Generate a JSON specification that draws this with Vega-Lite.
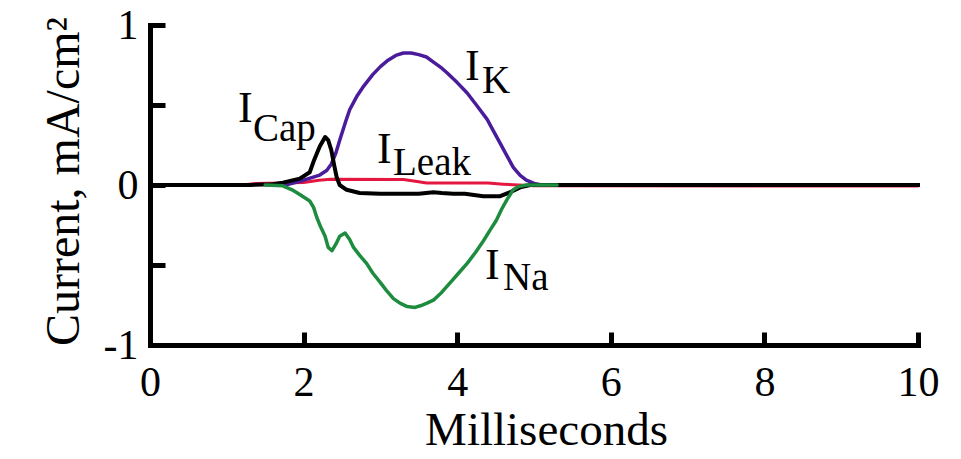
{
  "$schema": "https://vega.github.io/schema/vega-lite/v6.json",
  "width": 768,
  "height": 320,
  "autosize": "none",
  "padding": {"left": 150, "top": 25, "right": 43, "bottom": 114},
  "background": "white",
  "config": {
    "view": {"stroke": null},
    "font": "Liberation Serif",
    "axis": {
      "grid": false,
      "domainColor": "#000000",
      "domainWidth": 5,
      "domainCap": "square",
      "tickColor": "#000000",
      "tickWidth": 5,
      "tickCap": "butt",
      "labelFont": "Liberation Serif",
      "labelFontSize": 42,
      "labelColor": "#000000",
      "labelOverlap": false,
      "labelFlush": false,
      "titleFont": "Liberation Serif",
      "titleFontWeight": "normal",
      "titleColor": "#000000"
    }
  },
  "datasets": {
    "currents": [
      {"series": "Leak", "t": 0, "v": 0},
      {"series": "Leak", "t": 1.2, "v": 0},
      {"series": "Leak", "t": 1.4, "v": 0.01},
      {"series": "Leak", "t": 1.7, "v": 0.012},
      {"series": "Leak", "t": 2.0, "v": 0.015},
      {"series": "Leak", "t": 2.2, "v": 0.03},
      {"series": "Leak", "t": 2.35, "v": 0.036},
      {"series": "Leak", "t": 3.3, "v": 0.035},
      {"series": "Leak", "t": 3.5, "v": 0.02},
      {"series": "Leak", "t": 3.6, "v": 0.012},
      {"series": "Leak", "t": 4.4, "v": 0.012},
      {"series": "Leak", "t": 4.6, "v": 0.005},
      {"series": "Leak", "t": 4.8, "v": 0},
      {"series": "Leak", "t": 5.0, "v": -0.005},
      {"series": "Leak", "t": 10, "v": -0.006},

      {"series": "K", "t": 1.6, "v": 0},
      {"series": "K", "t": 1.8, "v": 0.005},
      {"series": "K", "t": 2.0, "v": 0.03},
      {"series": "K", "t": 2.2, "v": 0.06},
      {"series": "K", "t": 2.3, "v": 0.09},
      {"series": "K", "t": 2.36, "v": 0.13},
      {"series": "K", "t": 2.42, "v": 0.2},
      {"series": "K", "t": 2.47, "v": 0.28},
      {"series": "K", "t": 2.55, "v": 0.4},
      {"series": "K", "t": 2.6, "v": 0.47},
      {"series": "K", "t": 2.7, "v": 0.56},
      {"series": "K", "t": 2.77, "v": 0.61},
      {"series": "K", "t": 2.9, "v": 0.69},
      {"series": "K", "t": 3.0, "v": 0.74},
      {"series": "K", "t": 3.1, "v": 0.78},
      {"series": "K", "t": 3.2, "v": 0.81},
      {"series": "K", "t": 3.3, "v": 0.825},
      {"series": "K", "t": 3.4, "v": 0.825},
      {"series": "K", "t": 3.5, "v": 0.815},
      {"series": "K", "t": 3.6, "v": 0.8},
      {"series": "K", "t": 3.7, "v": 0.765},
      {"series": "K", "t": 3.8, "v": 0.73},
      {"series": "K", "t": 3.87, "v": 0.7},
      {"series": "K", "t": 4.0, "v": 0.64},
      {"series": "K", "t": 4.13, "v": 0.575},
      {"series": "K", "t": 4.25, "v": 0.5},
      {"series": "K", "t": 4.39, "v": 0.41},
      {"series": "K", "t": 4.48, "v": 0.33},
      {"series": "K", "t": 4.56, "v": 0.26},
      {"series": "K", "t": 4.65, "v": 0.18},
      {"series": "K", "t": 4.73, "v": 0.11},
      {"series": "K", "t": 4.82, "v": 0.06},
      {"series": "K", "t": 4.9, "v": 0.03},
      {"series": "K", "t": 5.0, "v": 0.01},
      {"series": "K", "t": 5.1, "v": 0},

      {"series": "Cap", "t": 0, "v": 0},
      {"series": "Cap", "t": 1.3, "v": 0},
      {"series": "Cap", "t": 1.6, "v": 0.005},
      {"series": "Cap", "t": 1.73, "v": 0.015},
      {"series": "Cap", "t": 1.95, "v": 0.04},
      {"series": "Cap", "t": 2.08, "v": 0.08},
      {"series": "Cap", "t": 2.14, "v": 0.16},
      {"series": "Cap", "t": 2.21, "v": 0.24},
      {"series": "Cap", "t": 2.28, "v": 0.3},
      {"series": "Cap", "t": 2.32, "v": 0.28},
      {"series": "Cap", "t": 2.36, "v": 0.22},
      {"series": "Cap", "t": 2.4, "v": 0.12},
      {"series": "Cap", "t": 2.43, "v": 0.05},
      {"series": "Cap", "t": 2.47, "v": 0.0},
      {"series": "Cap", "t": 2.56, "v": -0.03},
      {"series": "Cap", "t": 2.73, "v": -0.05},
      {"series": "Cap", "t": 3.0, "v": -0.055},
      {"series": "Cap", "t": 3.26, "v": -0.055},
      {"series": "Cap", "t": 3.5, "v": -0.055},
      {"series": "Cap", "t": 3.69, "v": -0.045},
      {"series": "Cap", "t": 3.8, "v": -0.05},
      {"series": "Cap", "t": 3.95, "v": -0.055},
      {"series": "Cap", "t": 4.1, "v": -0.055},
      {"series": "Cap", "t": 4.34, "v": -0.07},
      {"series": "Cap", "t": 4.56, "v": -0.07},
      {"series": "Cap", "t": 4.69, "v": -0.045},
      {"series": "Cap", "t": 4.82, "v": -0.015},
      {"series": "Cap", "t": 4.95, "v": 0},
      {"series": "Cap", "t": 10, "v": 0},

      {"series": "Na", "t": 1.5, "v": 0},
      {"series": "Na", "t": 1.73, "v": -0.005},
      {"series": "Na", "t": 1.85, "v": -0.03},
      {"series": "Na", "t": 1.95, "v": -0.06},
      {"series": "Na", "t": 2.08, "v": -0.1},
      {"series": "Na", "t": 2.13, "v": -0.14},
      {"series": "Na", "t": 2.17, "v": -0.2},
      {"series": "Na", "t": 2.22, "v": -0.26},
      {"series": "Na", "t": 2.28, "v": -0.32},
      {"series": "Na", "t": 2.32, "v": -0.39},
      {"series": "Na", "t": 2.37, "v": -0.41},
      {"series": "Na", "t": 2.42, "v": -0.37},
      {"series": "Na", "t": 2.47, "v": -0.32},
      {"series": "Na", "t": 2.54, "v": -0.3},
      {"series": "Na", "t": 2.6, "v": -0.34},
      {"series": "Na", "t": 2.65, "v": -0.39},
      {"series": "Na", "t": 2.73, "v": -0.44},
      {"series": "Na", "t": 2.82, "v": -0.49},
      {"series": "Na", "t": 2.9, "v": -0.55},
      {"series": "Na", "t": 3.0, "v": -0.61},
      {"series": "Na", "t": 3.08, "v": -0.66},
      {"series": "Na", "t": 3.17, "v": -0.71},
      {"series": "Na", "t": 3.26, "v": -0.74},
      {"series": "Na", "t": 3.35, "v": -0.76},
      {"series": "Na", "t": 3.45, "v": -0.765},
      {"series": "Na", "t": 3.52, "v": -0.755},
      {"series": "Na", "t": 3.6, "v": -0.74},
      {"series": "Na", "t": 3.69, "v": -0.72},
      {"series": "Na", "t": 3.8, "v": -0.67},
      {"series": "Na", "t": 3.91, "v": -0.61},
      {"series": "Na", "t": 4.02, "v": -0.55},
      {"series": "Na", "t": 4.13, "v": -0.49},
      {"series": "Na", "t": 4.24, "v": -0.42},
      {"series": "Na", "t": 4.34, "v": -0.35},
      {"series": "Na", "t": 4.43, "v": -0.28},
      {"series": "Na", "t": 4.51, "v": -0.22},
      {"series": "Na", "t": 4.58, "v": -0.15},
      {"series": "Na", "t": 4.65, "v": -0.09},
      {"series": "Na", "t": 4.73, "v": -0.03},
      {"series": "Na", "t": 4.8, "v": -0.01},
      {"series": "Na", "t": 4.9, "v": 0},
      {"series": "Na", "t": 5.3, "v": 0}
    ],
    "labels": [
      {"txt": "I", "part": "main", "t": 1.146, "v": 0.394},
      {"txt": "Cap", "part": "sub", "t": 1.341, "v": 0.275},
      {"txt": "I", "part": "main", "t": 2.956, "v": 0.1375},
      {"txt": "Leak", "part": "sub", "t": 3.164, "v": 0.0625},
      {"txt": "I", "part": "main", "t": 4.362, "v": -0.5875},
      {"txt": "Na", "part": "sub", "t": 4.596, "v": -0.656},
      {"txt": "I", "part": "main", "t": 4.102, "v": 0.656},
      {"txt": "K", "part": "sub", "t": 4.323, "v": 0.575}
    ]
  },
  "encoding": {
    "x": {
      "field": "t",
      "type": "quantitative",
      "scale": {"domain": [0, 10], "nice": false, "zero": false},
      "axis": {
        "title": "Milliseconds",
        "titleFont": "Liberation Serif",
        "titleFontSize": 47,
        "titleX": 396,
        "titleY": 99,
        "titleBaseline": "alphabetic",
        "values": [0, 2, 4, 6, 8, 10],
        "tickSize": -13,
        "labelFont": "Liberation Serif",
        "labelFontSize": 42,
        "labelPadding": 30,
        "labelBaseline": "top"
      }
    },
    "y": {
      "field": "v",
      "type": "quantitative",
      "scale": {"domain": [-1, 1], "nice": false, "zero": false},
      "axis": {
        "title": "Current, mA/cm²",
        "titleFont": "Liberation Serif",
        "titleFontSize": 48,
        "titleX": -72,
        "titleY": 156,
        "titleAngle": -90,
        "titleAlign": "center",
        "titleBaseline": "alphabetic",
        "values": [-1, -0.5, 0, 0.5, 1],
        "labelExpr": "datum.value == -1 ? '-1' : datum.value == 0 ? '0' : datum.value == 1 ? '1' : ''",
        "labelFont": "Liberation Serif",
        "labelFontSize": 42,
        "tickSize": -15,
        "labelPadding": 27
      }
    }
  },
  "layer": [
    {
      "data": {"name": "currents"},
      "transform": [{"filter": "datum.series == 'Leak'"}],
      "mark": {"type": "line", "color": "#e3173f", "strokeWidth": 3, "strokeJoin": "round", "strokeCap": "round"}
    },
    {
      "data": {"name": "currents"},
      "transform": [{"filter": "datum.series == 'K'"}],
      "mark": {"type": "line", "color": "#4a1c9c", "strokeWidth": 3.5, "strokeJoin": "round", "strokeCap": "round"}
    },
    {
      "data": {"name": "currents"},
      "transform": [{"filter": "datum.series == 'Cap'"}],
      "mark": {"type": "line", "color": "#000000", "strokeWidth": 4, "strokeJoin": "round", "strokeCap": "square"}
    },
    {
      "data": {"name": "currents"},
      "transform": [{"filter": "datum.series == 'Na'"}],
      "mark": {"type": "line", "color": "#1e8c3e", "strokeWidth": 3.5, "strokeJoin": "round", "strokeCap": "round"}
    },
    {
      "data": {"name": "labels"},
      "mark": {"type": "text", "align": "left", "baseline": "alphabetic", "font": "Liberation Serif", "color": "#000000"},
      "encoding": {
        "text": {"field": "txt"},
        "size": {
          "field": "part",
          "type": "nominal",
          "scale": {"domain": ["main", "sub"], "range": [44, 39]},
          "legend": null
        }
      }
    }
  ]
}
